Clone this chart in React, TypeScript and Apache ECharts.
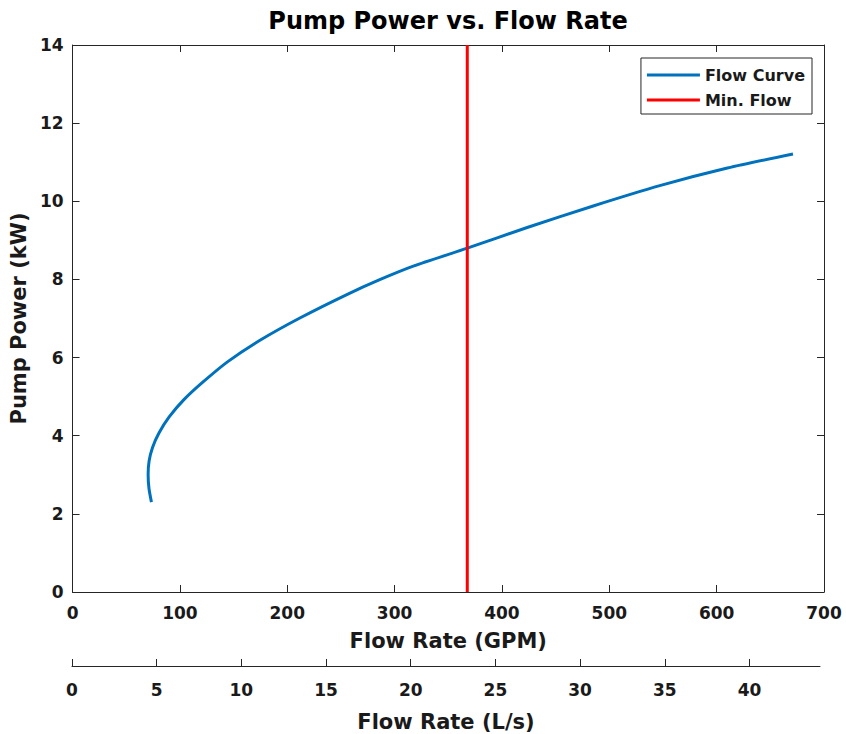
import React, { useEffect, useRef } from "react";
import * as echarts from "echarts";

const flowGpm = [73.5, 71.2, 70.4, 71.3, 74.5, 80.5, 90.0, 103.3, 120.5, 144.3, 175.0, 212.2, 256.0, 286.7, 317.4, 367.7, 423.5, 485.0, 547.0, 610.0, 671.1];
const powerKw = [2.3, 2.65, 3.0, 3.35, 3.7, 4.07, 4.48, 4.91, 5.35, 5.89, 6.45, 7.02, 7.62, 8.0, 8.34, 8.8, 9.33, 9.88, 10.4, 10.85, 11.21];
const minFlowGpm = 367.7;
const gpmTicks = [0, 100, 200, 300, 400, 500, 600, 700];
const lpsTicks = [0, 5, 10, 15, 20, 25, 30, 35, 40];
const kwTicks = [0, 2, 4, 6, 8, 10, 12, 14];
const lpsMax = 700 / 15.8503;

const FONT = "'DejaVu Sans', 'Liberation Sans', Arial, sans-serif";
const TXT = "#1a1a1a";
const AX = "#262626";

export default function App() {
  const ref = useRef<HTMLDivElement>(null);
  useEffect(() => {
    if (!ref.current) return;
    const chart = echarts.init(ref.current, undefined, { renderer: "svg" });
    const curve = flowGpm.map((x, i) => [x, powerKw[i]]);
    const tickLabel = { fontFamily: FONT, fontWeight: "bold" as const, fontSize: 17, color: TXT };
    const nameLabel = { fontFamily: FONT, fontWeight: "bold" as const, fontSize: 21, color: TXT };
    const line = { show: true, onZero: false, lineStyle: { color: AX, width: 1 } };
    const tick = { show: true, inside: true, length: 7, lineStyle: { color: AX } };
    chart.setOption({
      animation: false,
      backgroundColor: "#ffffff",
      graphic: [
        {
          type: "text",
          x: 448,
          y: 21,
          style: {
            text: "Pump Power vs. Flow Rate",
            fontFamily: FONT,
            fontWeight: "bold",
            fontSize: 24,
            fill: "#000",
            textAlign: "center",
            textVerticalAlign: "middle",
          },
        },
      ],
      legend: {
        orient: "vertical",
        top: 58,
        right: 34,
        itemWidth: 53,
        itemHeight: 3,
        itemGap: 9,
        padding: [9, 7, 6, 6],
        backgroundColor: "#fff",
        borderColor: AX,
        borderWidth: 1,
        borderRadius: 0,
        textStyle: { fontFamily: FONT, fontWeight: "bold", fontSize: 16, lineHeight: 16, color: TXT },
        data: [
          { name: "Flow Curve", icon: "rect" },
          { name: "Min. Flow", icon: "rect" },
        ],
      },
      grid: [
        { left: 72, right: 22, top: 45, bottom: 142, containLabel: false },
        { left: 72, width: 748, top: 666, height: 0, containLabel: false },
      ],
      xAxis: [
        {
          type: "value",
          gridIndex: 0,
          min: 0,
          max: 700,
          interval: 100,
          position: "bottom",
          name: "Flow Rate (GPM)",
          nameLocation: "middle",
          nameGap: 38,
          nameTextStyle: nameLabel,
          axisLine: line,
          axisTick: tick,
          axisLabel: { ...tickLabel, margin: 12, customValues: gpmTicks },
          splitLine: { show: false },
        },
        {
          type: "value",
          gridIndex: 0,
          min: 0,
          max: 700,
          interval: 100,
          position: "top",
          axisLine: line,
          axisTick: tick,
          axisLabel: { show: false },
          splitLine: { show: false },
        },
        {
          type: "value",
          gridIndex: 1,
          min: 0,
          max: lpsMax,
          position: "bottom",
          name: "Flow Rate (L/s)",
          nameLocation: "middle",
          nameGap: 45,
          nameTextStyle: nameLabel,
          axisLine: line,
          axisTick: { ...tick, customValues: lpsTicks },
          axisLabel: { ...tickLabel, margin: 15, customValues: lpsTicks },
          splitLine: { show: false },
        },
      ],
      yAxis: [
        {
          type: "value",
          gridIndex: 0,
          min: 0,
          max: 14,
          interval: 2,
          position: "left",
          name: "Pump Power (kW)",
          nameLocation: "middle",
          nameGap: 39,
          nameTextStyle: nameLabel,
          axisLine: line,
          axisTick: tick,
          axisLabel: { ...tickLabel, margin: 9, customValues: kwTicks },
          splitLine: { show: false },
        },
        {
          type: "value",
          gridIndex: 0,
          min: 0,
          max: 14,
          interval: 2,
          position: "right",
          axisLine: line,
          axisTick: tick,
          axisLabel: { show: false },
          splitLine: { show: false },
        },
        {
          type: "value",
          gridIndex: 1,
          min: 0,
          max: 1,
          show: false,
        },
      ],
      series: [
        {
          name: "Flow Curve",
          type: "line",
          xAxisIndex: 0,
          yAxisIndex: 0,
          data: curve,
          smooth: 0.25,
          symbol: "none",
          lineStyle: { color: "#0072BD", width: 3 },
          itemStyle: { color: "#0072BD" },
          z: 3,
        },
        {
          name: "Min. Flow",
          type: "line",
          xAxisIndex: 0,
          yAxisIndex: 0,
          data: [[minFlowGpm, 0], [minFlowGpm, 14]],
          symbol: "none",
          lineStyle: { color: "#FF0000", width: 3 },
          itemStyle: { color: "#FF0000" },
          z: 4,
        },
      ],
    });
    return () => chart.dispose();
  }, []);
  return <div ref={ref} style={{ position: "absolute", left: 0, top: 0, width: 846, height: 734 }} />;
}
